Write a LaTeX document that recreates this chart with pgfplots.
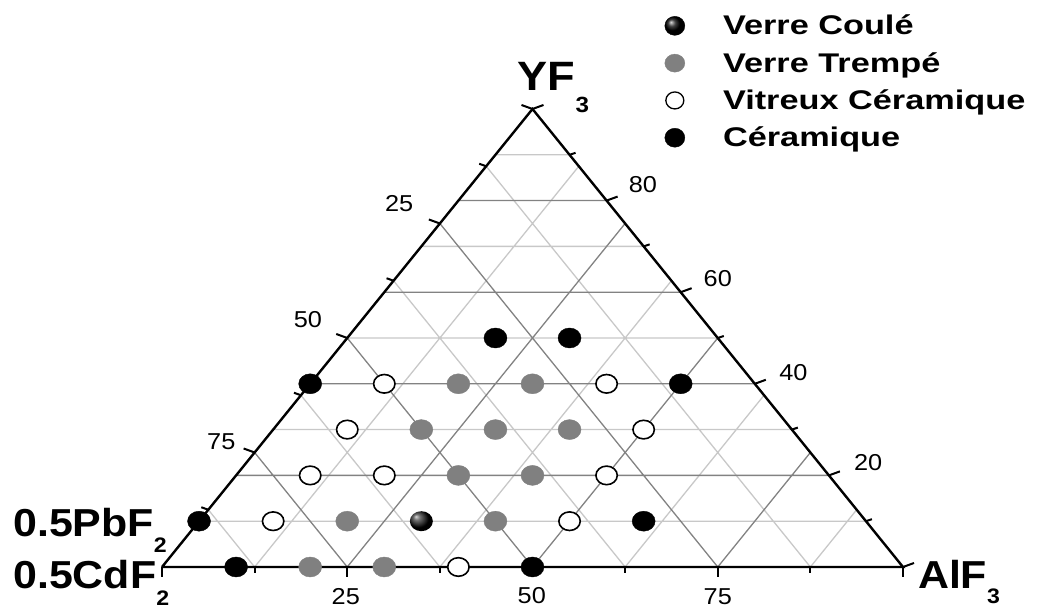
\documentclass[border=0pt]{standalone}
\usepackage{fontspec}
\setmainfont{Liberation Sans}
\usepackage{graphicx}
\usepackage{pgfplots}
\pgfplotsset{compat=1.18}

\definecolor{gridlight}{RGB}{200,200,200}
\definecolor{griddark}{RGB}{130,130,130}
\definecolor{trempe}{RGB}{128,128,128}

% tick marks drawn as plot marks
\pgfdeclareplotmark{tLmaj}{\pgfpathmoveto{\pgfpointorigin}\pgfpathlineto{\pgfpoint{-11pt}{4pt}}\pgfusepathqstroke}
\pgfdeclareplotmark{tLmin}{\pgfpathmoveto{\pgfpointorigin}\pgfpathlineto{\pgfpoint{-7pt}{2.5pt}}\pgfusepathqstroke}
\pgfdeclareplotmark{tRmaj}{\pgfpathmoveto{\pgfpointorigin}\pgfpathlineto{\pgfpoint{11pt}{4pt}}\pgfusepathqstroke}
\pgfdeclareplotmark{tRmin}{\pgfpathmoveto{\pgfpointorigin}\pgfpathlineto{\pgfpoint{6pt}{2pt}}\pgfusepathqstroke}
\pgfdeclareplotmark{tBmaj}{\pgfpathmoveto{\pgfpointorigin}\pgfpathlineto{\pgfpoint{0pt}{-10pt}}\pgfusepathqstroke}
\pgfdeclareplotmark{tBmin}{\pgfpathmoveto{\pgfpointorigin}\pgfpathlineto{\pgfpoint{0pt}{-6pt}}\pgfusepathqstroke}

\pgfdeclareradialshading{coule}{\pgfpoint{-12bp}{12bp}}{color(0bp)=(white!85!black); color(7bp)=(black!55); color(22bp)=(black); color(50bp)=(black)}
\pgfdeclareplotmark{ballmark}{\pgfpathcircle{\pgfpointorigin}{\pgfplotmarksize}\pgfshadepath{coule}{0}\pgfusepath{}}

\newcommand{\lx}[1]{\scalebox{1.27}[1]{#1}}

\begin{document}
\begin{tikzpicture}
\path[use as bounding box] (-162pt,-42pt) rectangle (876pt,567pt);
\begin{axis}[
  scale only axis, width=741pt, height=458pt,
  xmin=0, xmax=100, ymin=0, ymax=100,
  axis lines=none, clip=false,
  unbounded coords=jump,
  legend cell align=left,
  legend style={draw=none, fill=none, at={(0.674,1.214)}, anchor=north west,
    font=\bfseries\fontsize{27}{30}\selectfont, row sep=12pt, column sep=36pt},
]
% light grid (a = AlF3, b = YF3)
\addplot[gridlight, line width=1.3pt, forget plot] table[x expr=\thisrow{a}+0.5*\thisrow{b}, y=b] {
a b
0 10
90 10
nan nan
0 30
70 30
nan nan
0 50
50 50
nan nan
0 70
30 70
nan nan
0 90
10 90
nan nan
12.5 0
12.5 87.5
nan nan
37.5 0
37.5 62.5
nan nan
62.5 0
62.5 37.5
nan nan
87.5 0
87.5 12.5
nan nan
87.5 0
0 87.5
nan nan
62.5 0
0 62.5
nan nan
37.5 0
0 37.5
nan nan
12.5 0
0 12.5
};
% dark grid
\addplot[griddark, line width=1.3pt, forget plot] table[x expr=\thisrow{a}+0.5*\thisrow{b}, y=b] {
a b
0 20
80 20
nan nan
0 40
60 40
nan nan
0 60
40 60
nan nan
0 80
20 80
nan nan
25 0
25 75
nan nan
50 0
50 50
nan nan
75 0
75 25
nan nan
75 0
0 75
nan nan
50 0
0 50
nan nan
25 0
0 25
};
% frame
\addplot[black, line width=2.4pt, forget plot] table[x expr=\thisrow{a}+0.5*\thisrow{b}, y=b] {
a b
0 0
100 0
0 100
0 0
};
% ticks
\addplot[only marks, mark=tLmaj, mark options={line width=2pt}, forget plot] table[x expr=\thisrow{a}+0.5*\thisrow{b}, y=b] {
a b
0 100
0 75
0 50
0 25
};
\addplot[only marks, mark=tLmin, mark options={line width=2pt}, forget plot] table[x expr=\thisrow{a}+0.5*\thisrow{b}, y=b] {
a b
0 87.5
0 62.5
0 37.5
0 12.5
};
\addplot[only marks, mark=tRmaj, mark options={line width=2pt}, forget plot] table[x expr=\thisrow{a}+0.5*\thisrow{b}, y=b] {
a b
0 100
20 80
40 60
60 40
80 20
100 0
};
\addplot[only marks, mark=tRmin, mark options={line width=2pt}, forget plot] table[x expr=\thisrow{a}+0.5*\thisrow{b}, y=b] {
a b
10 90
30 70
50 50
70 30
90 10
};
\addplot[only marks, mark=tBmaj, mark options={line width=2pt}, forget plot] table[x expr=\thisrow{a}+0.5*\thisrow{b}, y=b] {
a b
0 0
25 0
50 0
75 0
100 0
};
\addplot[only marks, mark=tBmin, mark options={line width=2pt}, forget plot] table[x expr=\thisrow{a}+0.5*\thisrow{b}, y=b] {
a b
12.5 0
37.5 0
62.5 0
87.5 0
};

% data
\addplot[only marks, mark=ballmark, mark size=10pt, mark options={xscale=1.15},
  legend image code/.code={\shade[ball color=black] (0pt,0pt) ellipse [x radius=10pt, y radius=9.5pt];}]
  table[x expr=\thisrow{a}+0.5*\thisrow{b}, y=b] {
a b
30 10
};
\addlegendentry{\lx{Verre Coulé}}
\addplot[only marks, mark=*, mark size=10pt, mark options={xscale=1.15, fill=trempe, draw=trempe},
  legend image code/.code={\fill[trempe] (0pt,0pt) ellipse [x radius=10pt, y radius=9pt];}]
  table[x expr=\thisrow{a}+0.5*\thisrow{b}, y=b] {
a b
20 0
30 0
20 10
40 10
30 20
40 20
20 30
30 30
40 30
20 40
30 40
};
\addlegendentry{\lx{Verre Trempé}}
\addplot[only marks, mark=*, mark size=9.3pt, mark options={xscale=1.15, fill=white, draw=black, line width=1.6pt},
  legend image code/.code={\draw[line width=1.3pt, fill=white] (0pt,0pt) ellipse [x radius=9pt, y radius=8.5pt];}]
  table[x expr=\thisrow{a}+0.5*\thisrow{b}, y=b] {
a b
40 0
10 10
50 10
10 20
20 20
50 20
10 30
50 30
10 40
40 40
};
\addlegendentry{\lx{Vitreux Céramique}}
\addplot[only marks, mark=*, mark size=10pt, mark options={xscale=1.15, fill=black, draw=black},
  legend image code/.code={\fill[black] (0pt,0pt) ellipse [x radius=10pt, y radius=9.5pt];}]
  table[x expr=\thisrow{a}+0.5*\thisrow{b}, y=b] {
a b
10 0
50 0
0 10
60 10
0 40
50 40
20 50
30 50
};
\addlegendentry{\lx{Céramique}}

% tick labels
\begin{scope}[every node/.style={font=\fontsize{23}{23}\selectfont, xscale=1.1, inner sep=0pt}]
\node at (axis cs:32.0,79.3) {25};
\node at (axis cs:19.7,54.1) {50};
\node at (axis cs:8.0,27.3) {75};
\node at (axis cs:64.9,83.4) {80};
\node at (axis cs:75.0,62.9) {60};
\node at (axis cs:85.2,42.4) {40};
\node at (axis cs:95.3,22.9) {20};
\node at (axis cs:24.8,-6.5) {25};
\node at (axis cs:49.9,-6.3) {50};
\node at (axis cs:75.0,-6.4) {75};
\end{scope}
% corner labels
\begin{scope}[every node/.style={font=\bfseries\fontsize{39}{39}\selectfont, xscale=1.1, inner sep=0pt, anchor=base west}]
\node at (axis cs:48.0,104.1) {\fontsize{41}{41}\selectfont YF\raisebox{-22pt}{\fontsize{22}{22}\selectfont 3}};
\node at (axis cs:-20.1,6.55) {0.5PbF\raisebox{-16pt}{\fontsize{21}{21}\selectfont 2}};
\node at (axis cs:-20.1,-4.8) {0.5CdF\raisebox{-17pt}{\fontsize{21}{21}\selectfont 2}};
\node at (axis cs:102.0,-4.6) {AlF\raisebox{-15pt}{\fontsize{21}{21}\selectfont 3}};
\end{scope}
\end{axis}
\end{tikzpicture}
\end{document}
